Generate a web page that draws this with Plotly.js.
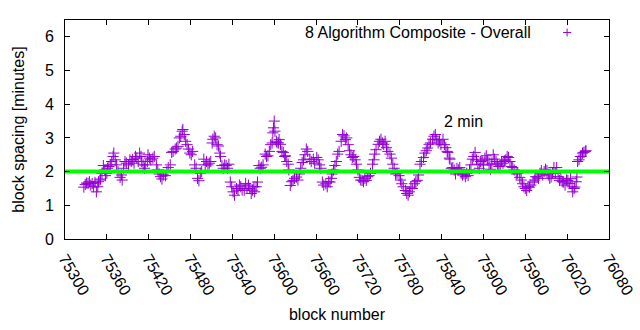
<!DOCTYPE html>
<html>
<head>
<meta charset="utf-8">
<script src="https://cdn.plot.ly/plotly-3.0.1.min.js"></script>
<style>html,body{margin:0;padding:0;background:#fff;}#chart{width:640px;height:330px;}</style>
</head>
<body>
<div id="chart"></div>
<script>
const seriesName = "8 Algorithm Composite - Overall";
const refLabel = "2 min";
const refValue = 2;
const xTitle = "block number";
const yTitle = "block spacing [minutes]";
const xRange = [75300, 76080];
const yRange = [0, 6.5];

const blocks = [
75327,75329,75331,75333,75335,75337,75339,75341,75343,75345,75347,75348,75350,75351,75353,75355,75357,75358,75360,75361,
75363,75365,75367,75369,75370,75372,75374,75376,75379,75381,75382,75384,75386,75388,75391,75393,75395,75397,75399,75401,
75403,75405,75407,75409,75410,75412,75414,75415,75418,75419,75421,75423,75426,75428,75431,75433,75435,75437,75439,75441,
75444,75446,75448,75451,75453,75455,75458,75460,75462,75464,75466,75468,75469,75471,75473,75475,75477,75479,75481,75483,
75486,75488,75490,75492,75494,75496,75499,75501,75503,75505,75507,75509,75511,75512,75514,75516,75518,75520,75522,75523,
75525,75527,75529,75531,75533,75535,75537,75539,75541,75543,75546,75548,75550,75552,75554,75557,75559,75561,75563,75565,
75567,75569,75571,75572,75574,75576,75578,75580,75582,75584,75587,75589,75591,75593,75595,75597,75598,75599,75600,75601,
75603,75604,75606,75607,75609,75611,75613,75615,75616,75618,75620,75621,75623,75625,75627,75629,75632,75634,75636,75638,
75640,75642,75644,75646,75648,75651,75653,75656,75658,75661,75663,75665,75667,75669,75671,75674,75676,75678,75680,75682,
75683,75685,75687,75689,75691,75693,75696,75698,75700,75702,75704,75706,75708,75710,75712,75714,75716,75718,75720,75722,
75724,75726,75728,75730,75732,75734,75736,75738,75741,75743,75744,75746,75749,75751,75753,75755,75757,75759,75761,75763,
75766,75768,75770,75772,75774,75776,75779,75781,75783,75785,75788,75790,75792,75794,75796,75798,75801,75803,75805,75807,
75809,75811,75814,75816,75818,75820,75822,75824,75827,75829,75831,75833,75835,75837,75839,75842,75844,75846,75848,75849,
75851,75852,75854,75856,75858,75860,75862,75864,75866,75868,75870,75872,75874,75876,75878,75880,75882,75884,75886,75888,
75890,75892,75894,75896,75898,75900,75902,75904,75906,75908,75910,75912,75914,75916,75918,75920,75922,75924,75926,75928,
75930,75932,75934,75936,75938,75940,75942,75944,75947,75949,75952,75954,75956,75958,75960,75962,75964,75966,75968,75971,
75973,75975,75977,75979,75981,75983,75985,75987,75989,75991,75993,75995,75997,75999,76001,76003,76005,76007,76009,76011,
76013,76015,76017,76019,76021,76023,76025,76027,76028,76030,76031,76033,76034,76035,76037,76039,76040,76042,76044,76046,
76047
];

const spacing = [
1.54,1.62,1.66,1.65,1.70,1.60,1.65,1.55,1.68,1.40,1.55,1.70,1.75,1.78,1.95,2.18,2.05,1.88,1.95,2.10,
2.15,2.20,2.30,2.45,2.55,2.35,2.20,2.00,1.83,1.90,1.75,2.10,2.30,2.25,2.20,2.35,2.30,2.36,2.25,2.45,
2.40,2.30,2.55,2.45,2.30,2.20,2.10,2.20,2.30,2.50,2.40,2.35,2.40,2.45,2.20,2.05,1.93,1.85,1.78,1.90,
1.88,2.00,2.12,2.20,2.57,2.60,2.67,2.70,2.75,3.00,3.05,3.20,3.25,3.10,2.90,2.80,2.67,2.55,2.50,2.60,
2.20,2.10,1.80,1.73,1.95,2.00,2.37,2.20,2.30,2.20,2.25,2.30,2.85,2.96,3.05,3.00,2.80,2.76,2.55,2.45,
2.18,2.10,2.20,2.18,2.10,2.22,1.69,1.55,1.40,1.30,1.50,1.45,1.60,1.55,1.45,1.45,1.65,1.50,1.60,1.50,
1.35,1.45,1.55,1.40,1.55,1.69,2.18,2.10,2.13,2.20,2.52,2.45,2.47,2.60,2.80,2.85,3.15,3.30,3.50,3.20,
2.90,2.86,2.85,2.95,2.81,2.60,2.57,2.45,2.47,2.30,2.22,2.05,1.59,1.70,1.74,1.80,1.84,1.75,1.93,2.10,
2.27,2.35,2.50,2.67,2.60,2.37,2.30,2.37,2.25,2.42,2.35,2.20,2.10,1.69,1.60,1.64,1.55,1.70,1.69,1.80,
1.93,2.05,2.18,2.30,2.52,2.60,2.90,3.10,3.06,2.95,3.00,2.80,2.62,2.50,2.42,2.45,2.35,2.22,2.05,1.83,
1.75,1.74,1.70,1.80,1.74,1.85,1.88,1.95,2.22,2.35,2.52,2.65,2.81,2.90,2.96,2.85,2.81,2.90,2.71,2.60,
2.52,2.40,2.22,2.10,1.93,1.95,1.88,1.75,1.64,1.55,1.44,1.35,1.30,1.40,1.54,1.50,1.64,1.70,1.74,1.90,
2.22,2.30,2.42,2.55,2.62,2.70,2.81,2.85,2.96,3.05,3.10,2.95,2.85,2.91,2.80,2.96,2.80,2.71,2.60,2.57,
2.40,2.37,2.10,2.12,2.05,1.93,2.10,2.05,2.12,1.95,1.90,1.93,1.85,1.95,1.88,2.05,2.20,2.37,2.45,2.57,
2.35,2.22,2.10,2.30,2.32,2.20,2.40,2.47,2.35,2.20,2.07,2.25,2.50,2.37,2.30,2.22,2.15,2.17,2.30,2.25,
2.32,2.35,2.45,2.42,2.30,2.15,2.12,2.05,1.93,1.95,1.83,1.75,1.64,1.55,1.50,1.44,1.55,1.54,1.60,1.69,
1.75,1.85,1.84,1.80,1.95,2.03,1.90,2.00,2.07,2.03,1.90,1.80,1.84,1.95,2.12,1.95,2.12,1.85,1.74,1.80,
1.70,1.69,1.60,1.75,1.74,1.65,1.79,1.55,1.40,1.50,1.54,1.70,1.84,2.30,2.35,2.45,2.45,2.55,2.57,2.60,
2.62
];

const purple = "#9400d3";
const fontFam = "'Liberation Sans', Arial, sans-serif";
const fs = 16;

const traces = [
  {
    x: blocks, y: spacing, name: seriesName,
    mode: "markers", type: "scatter",
    marker: {symbol: "cross-thin-open", size: 8, color: purple, line: {color: purple, width: 1}},
    showlegend: false
  },
  {
    x: xRange, y: [refValue, refValue],
    mode: "lines", type: "scatter",
    line: {color: "#00ff00", width: 4},
    hoverinfo: "skip", showlegend: false
  }
];

const lx = 0.923, ly = 0.943, hx = 0.0075, hy = 0.018;
const layout = {
  width: 640, height: 330,
  margin: {l: 64.5, r: 31, t: 19.5, b: 91, pad: 0},
  paper_bgcolor: "#fff", plot_bgcolor: "#fff",
  font: {family: fontFam, size: fs, color: "#000"},
  showlegend: false,
  xaxis: {
    range: xRange, tick0: 75300, dtick: 60, tickangle: 60, tickformat: "d",
    ticks: "inside", ticklen: 5, tickwidth: 1, tickcolor: "#000", ticklabelstandoff: 3,
    showline: true, linecolor: "#000", linewidth: 1, mirror: "ticks",
    showgrid: false, zeroline: false,
    tickfont: {family: fontFam, size: fs, color: "#000"},
    title: {text: xTitle, font: {family: fontFam, size: fs, color: "#000"}, standoff: 11}
  },
  yaxis: {
    range: yRange, tick0: 0, dtick: 1,
    ticks: "inside", ticklen: 5, tickwidth: 1, tickcolor: "#000", ticklabelstandoff: 7,
    showline: true, linecolor: "#000", linewidth: 1, mirror: "ticks",
    showgrid: false, zeroline: false,
    tickfont: {family: fontFam, size: fs, color: "#000"},
    title: {text: yTitle, font: {family: fontFam, size: fs, color: "#000"}, standoff: 16}
  },
  annotations: [
    {xref: "paper", yref: "paper", x: 0.860, y: ly, xanchor: "right", yanchor: "middle",
     text: seriesName, showarrow: false, font: {family: fontFam, size: fs, color: "#000"}},
    {xref: "x", yref: "y", x: 75872, y: 3.48, xanchor: "center", yanchor: "middle",
     text: refLabel, showarrow: false, font: {family: fontFam, size: fs, color: "#000"}}
  ],
  shapes: [
    {type: "line", xref: "paper", yref: "paper", x0: lx - hx, x1: lx + hx, y0: ly, y1: ly, line: {color: purple, width: 1}},
    {type: "line", xref: "paper", yref: "paper", x0: lx, x1: lx, y0: ly - hy, y1: ly + hy, line: {color: purple, width: 1}}
  ]
};

Plotly.newPlot("chart", traces, layout, {staticPlot: true, displayModeBar: false});
</script>
</body>
</html>
